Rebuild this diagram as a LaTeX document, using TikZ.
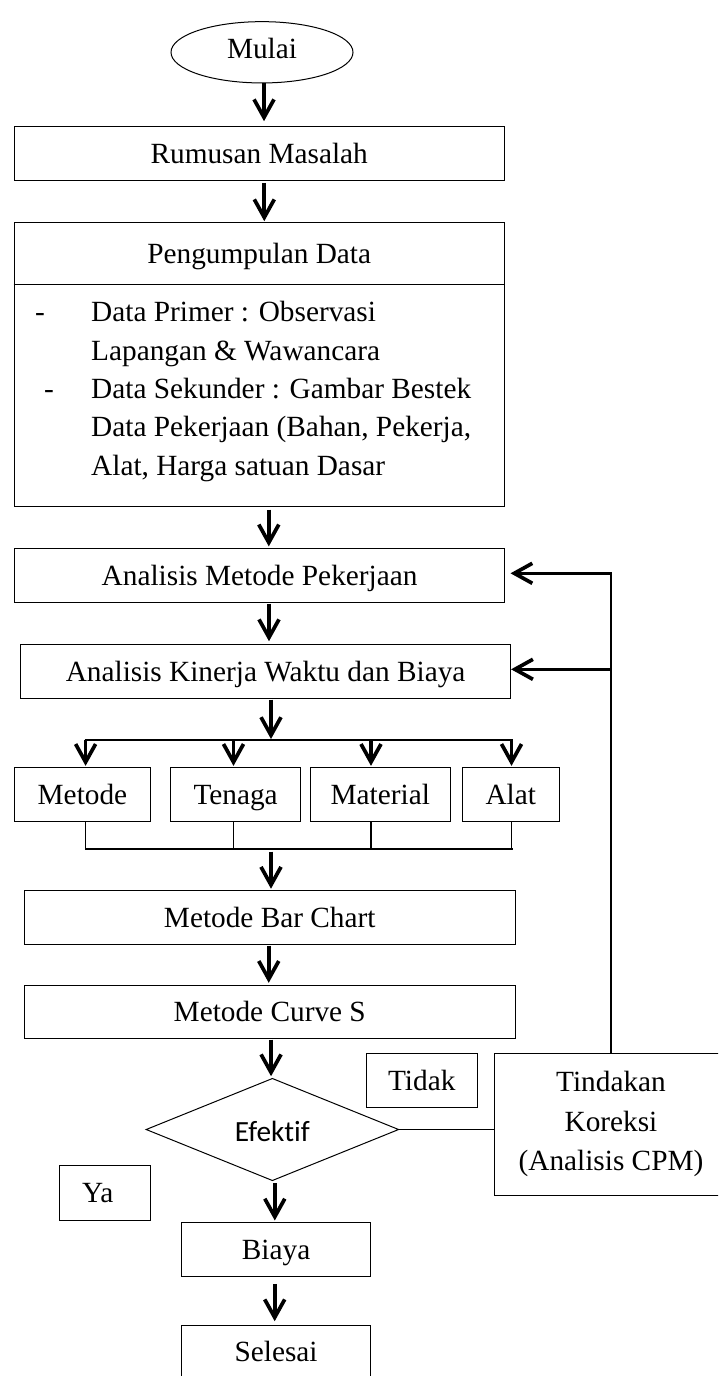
\documentclass[tikz,border=0pt]{standalone}
\usepackage{fontspec}
\setmainfont{Liberation Serif}
\newfontfamily\calfont[Ligatures=NoCommon]{Carlito}
\usetikzlibrary{arrows.meta,shapes.geometric}
\begin{document}
\begin{tikzpicture}[x=1pt,y=-1pt,
  every node/.style={font=\fontsize{29.3pt}{38.4pt}\selectfont, inner sep=0pt},
  frame/.style={draw, line width=1pt, rectangle, inner sep=0pt},
  box/.style={frame, text height=26.1pt, text depth=6.3pt},
  arr/.style={line width=3.7pt, -{Straight Barb[length=18pt,width=20pt,line width=3.7pt]}},
  bus/.style={line width=2.2pt},
  thinline/.style={line width=1.5pt},
  fback/.style={line width=2.8pt, line join=miter}
]
\useasboundingbox (0,0) rectangle (718,1376);
\clip (0,0) rectangle (718,1376);

% nodes
\node[draw, line width=1pt, ellipse, minimum width=182pt, minimum height=61.3pt, text height=20pt, text depth=8pt] (mulai) at (262,52.3) {Mulai};
\node[box, minimum width=490.3pt, minimum height=53.6pt] (rm) at (259.2,153.5) {Rumusan Masalah};
\node[frame, minimum width=490.3pt, minimum height=283.3pt] (pd) at (259.2,364.35) {};
\node[text height=26.1pt, text depth=6.3pt] (pdt) at (259.2,253.5) {Pengumpulan Data};
\coordinate (dv) at (0,284.3);
\draw[line width=1pt] (pd.west |- dv) -- (pd.east |- dv);
\node[anchor=base west] (d1) at (35,321.7) {-};
\node[anchor=base west] (l1) at (91,321.7) {Data Primer : Observasi};
\node[anchor=base west] (l2) at (91,360) {Lapangan \& Wawancara};
\node[anchor=base west] (d2) at (44,398.3) {-};
\node[anchor=base west] (l3) at (91,398.3) {Data Sekunder : Gambar Bestek};
\node[anchor=base west] (l4) at (91,436.7) {Data Pekerjaan (Bahan, Pekerja,};
\node[anchor=base west] (l5) at (91,475) {Alat, Harga satuan Dasar};

\node[box, minimum width=489.8pt, minimum height=53.7pt] (am) at (259.6,575.2) {Analisis Metode Pekerjaan};
\node[box, minimum width=490pt, minimum height=54.1pt] (ak) at (265.6,671.25) {Analisis Kinerja Waktu dan Biaya};

\node[box, minimum width=135.5pt, minimum height=53.7pt] (metode) at (82.45,794.2) {Metode};
\node[box, minimum width=130.6pt, minimum height=53.7pt] (tenaga) at (235.6,794.2) {Tenaga};
\node[box, minimum width=139.6pt, minimum height=53.7pt] (material) at (380.3,794.2) {Material};
\node[box, minimum width=96.6pt, minimum height=53.7pt] (alat) at (510.8,794.2) {Alat};

\node[box, minimum width=490.9pt, minimum height=53.6pt] (bc) at (269.75,917.5) {Metode Bar Chart};
\node[box, minimum width=490.9pt, minimum height=53.3pt] (cs) at (269.75,1011.65) {Metode Curve S};

\node[draw, line width=1pt, diamond, aspect=2.47, minimum width=252.8pt, minimum height=102.4pt,
      font=\calfont\fontsize{29.3pt}{35pt}\selectfont, text height=30pt, text depth=6pt] (ef) at (272.4,1129.5) {Efektif};

\node[frame, minimum width=233.4pt, minimum height=141.7pt, align=center,
      font=\fontsize{29.3pt}{39.5pt}\selectfont] (tk) at (611,1124.15) {Tindakan\\Koreksi\\(Analisis CPM)};
\node[box, minimum width=110.9pt, minimum height=54.4pt] (tidak) at (421.75,1080.5) {Tidak};
\node[box, minimum width=90.7pt, minimum height=54.3pt] (ya) at (104.85,1192.85) {\hspace*{-14pt}Ya};
\node[box, minimum width=189.6pt, minimum height=53.7pt] (by) at (276.1,1249.15) {Biaya};
\node[box, minimum width=189.6pt, minimum height=53.7pt] (sl) at (276.1,1351.85) {Selesai};

% main arrows
\draw[arr, shorten >=5pt] ([xshift=2pt]mulai.south) -- ([xshift=2pt]mulai.south |- rm.north);
\draw[arr, shorten <=2pt, shorten >=1pt] ([xshift=5.1pt]rm.south) -- ([xshift=5.1pt]rm.south |- pd.north);
\draw[arr, shorten <=3pt, shorten >=1.5pt] ([xshift=9.6pt]pd.south) -- ([xshift=9.6pt]pd.south |- am.north);
\draw[arr, shorten <=1pt, shorten >=2.5pt] ([xshift=9.4pt]am.south) -- ([xshift=9.4pt]am.south |- ak.north);

% distribution bus
\coordinate (busL) at (84.7,740);
\coordinate (busR) at (512.5,740);
\draw[arr, shorten <=0.7pt, shorten >=1pt] ([xshift=5.4pt]ak.south) -- ([xshift=5.4pt]ak.south |- busL);
\draw[bus] (busL) -- (busR);
\coordinate (t1) at (85.6,740);
\coordinate (t2) at (233.5,740);
\coordinate (t3) at (371,740);
\coordinate (t4) at (511.5,740);
\draw[arr, shorten >=1pt] (t1) -- (t1 |- metode.north);
\draw[arr, shorten >=1pt] (t2) -- (t2 |- tenaga.north);
\draw[arr, shorten >=1pt] (t3) -- (t3 |- material.north);
\draw[arr, shorten >=1pt] (t4) -- (t4 |- alat.north);

% collecting bus
\coordinate (u1) at (85.6,848.7);
\coordinate (u2) at (233.5,848.7);
\coordinate (u3) at (371,848.7);
\coordinate (u4) at (511.5,848.7);
\draw[thinline] (u1 |- metode.south) -- (u1);
\draw[thinline] (u2 |- tenaga.south) -- (u2);
\draw[thinline] (u3 |- material.south) -- (u3);
\draw[thinline] (u4 |- alat.south) -- (u4);
\draw[bus, line cap=rect] (u1) -- (u4);
\coordinate (bm) at (271,848.7);
\draw[arr, shorten <=3pt, shorten >=1.5pt] (bm) -- (bm |- bc.north);

\draw[arr, shorten <=0.7pt, shorten >=1.7pt] ([xshift=-1pt]bc.south) -- ([xshift=-1pt]bc.south |- cs.north);
\draw[arr, shorten <=0.7pt, shorten >=1.6pt] ([xshift=1.3pt]cs.south) -- ([xshift=1.3pt]cs.south |- ef.north);
\draw[arr, shorten <=2pt, shorten >=1.3pt] ([xshift=2.4pt]ef.south) -- ([xshift=2.4pt]ef.south |- by.north);
\draw[arr, shorten <=7.3pt, shorten >=3.3pt] ([xshift=-1.4pt]by.south) -- ([xshift=-1.4pt]by.south |- sl.north);

% decision to correction
\draw[thinline] (ef.east) -- (ef.east -| tk.west);

% feedback
\coordinate (fb1) at (611,573.3);
\coordinate (fb2) at (611,669.3);
\draw[fback] (tk.north) -- ([yshift=1.4pt]fb1);
\draw[arr, line width=3.3pt] (fb1) -- ([xshift=5.5pt]am.east |- fb1);
\draw[arr, line width=3.3pt] (fb2) -- (ak.east |- fb2);
\end{tikzpicture}
\end{document}
